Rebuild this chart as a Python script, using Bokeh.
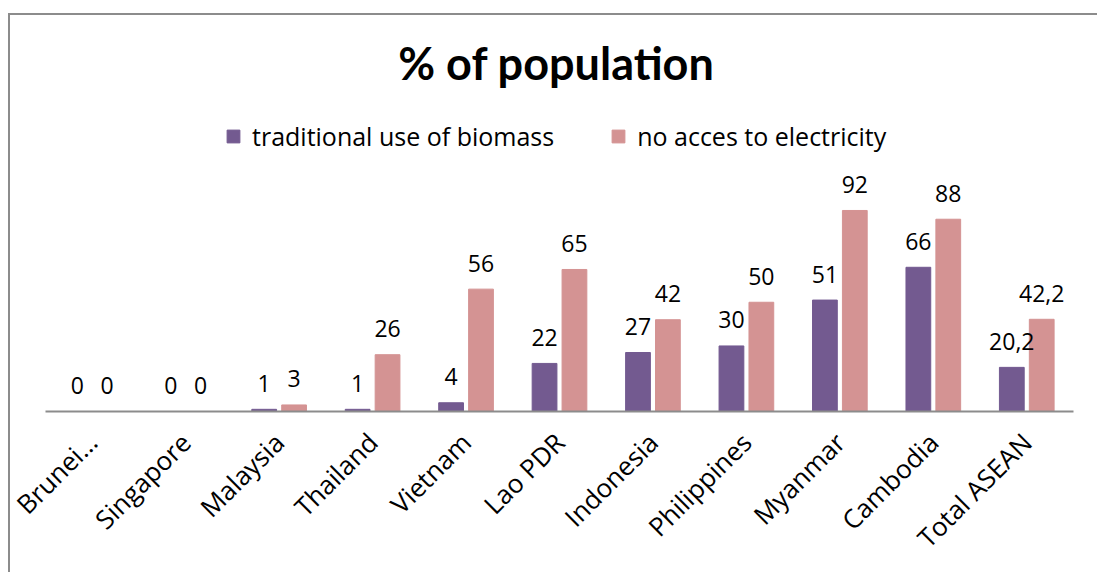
from bokeh.plotting import figure
from bokeh.models import ColumnDataSource, FactorRange, Range1d, Legend, LegendItem, Label
from bokeh.transform import dodge
from bokeh.core.properties import value
from bokeh.embed import file_html
from bokeh.resources import INLINE
import math

categories = ["Brunei…", "Singapore", "Malaysia", "Thailand", "Vietnam", "Lao PDR",
              "Indonesia", "Philippines", "Myanmar", "Cambodia", "Total ASEAN"]
biomass = [0, 0, 1, 1, 4, 22, 27, 30, 51, 66, 20.2]
no_access = [0, 0, 3, 26, 56, 65, 42, 50, 92, 88, 42.2]
series_names = ["traditional use of biomass", "no acces to electricity"]


def fmt(v):
    return str(v).replace(".", ",") if v != int(v) else str(int(v))


src = ColumnDataSource(dict(
    cat=categories,
    bio=biomass,
    noe=no_access,
    bio_lbl=[fmt(v) for v in biomass],
    noe_lbl=[fmt(v) for v in no_access],
))

PURPLE = "#735a90"
PINK = "#d49393"
FRAME = "#8c8c8c"

W, H = 1097, 572
top_b, bot_b, left_b, right_b = 20, 161, 45, 24
ppu = 2.185
ymax = (H - bot_b - top_b) / ppu

p = figure(width=W, height=H, x_range=FactorRange(*categories), y_range=Range1d(0, ymax),
           output_backend="svg", toolbar_location=None,
           min_border_top=top_b, min_border_bottom=bot_b,
           min_border_left=left_b, min_border_right=right_b)
p.outline_line_color = None
p.xgrid.visible = False
p.ygrid.visible = False
p.yaxis.visible = False
p.background_fill_color = "white"
p.border_fill_alpha = 0
# outer chart-area frame (top and left edges visible in the window)
p.styles = {
    "background-color": "white",
    "background-image": f"linear-gradient({FRAME}, {FRAME}), linear-gradient({FRAME}, {FRAME})",
    "background-position": "8px 13px, 8px 13px",
    "background-size": "2px 100%, 100% 2px",
    "background-repeat": "no-repeat, no-repeat",
}

r1 = p.vbar(x=dodge("cat", -0.16, range=p.x_range), top="bio", width=0.265, source=src,
            fill_color=PURPLE, line_color=PURPLE)
r2 = p.vbar(x=dodge("cat", 0.16, range=p.x_range), top="noe", width=0.265, source=src,
            fill_color=PINK, line_color=PINK)

p.text(x=dodge("cat", -0.16, range=p.x_range), y="bio", text="bio_lbl", source=src,
       text_align="center", text_baseline="alphabetic", y_offset=-26,
       text_font=value("Open Sans"), text_font_size="23px", text_color="black")
p.text(x=dodge("cat", 0.16, range=p.x_range), y="noe", text="noe_lbl", source=src,
       text_align="center", text_baseline="alphabetic", y_offset=-26,
       text_font=value("Open Sans"), text_font_size="23px", text_color="black")

ax = p.xaxis[0]
ax.major_label_orientation = math.pi / 4
ax.major_label_text_font = "Open Sans"
ax.major_label_text_font_size = "26px"
ax.major_label_text_color = "black"
ax.major_tick_line_color = None
ax.minor_tick_line_color = None
ax.axis_line_color = FRAME
ax.axis_line_width = 2
ax.major_label_standoff = 20

legend = Legend(items=[LegendItem(label=series_names[0], renderers=[r1]),
                       LegendItem(label=series_names[1], renderers=[r2])],
                orientation="horizontal", location=(180, 258),
                label_text_font="Open Sans", label_text_font_size="25px",
                label_text_color="black",
                glyph_width=16, glyph_height=16, spacing=56, label_standoff=11,
                background_fill_alpha=0, border_line_color=None)
p.add_layout(legend, "center")

title = Label(x=556 - left_b, y=(H - bot_b) - 62, x_units="screen", y_units="screen",
              text="% of population", text_align="center", text_baseline="middle",
              text_font="Lato", text_font_style="bold", text_font_size="45px",
              text_color="black")
p.add_layout(title)

open("out.html", "w").write(file_html(p, INLINE))
